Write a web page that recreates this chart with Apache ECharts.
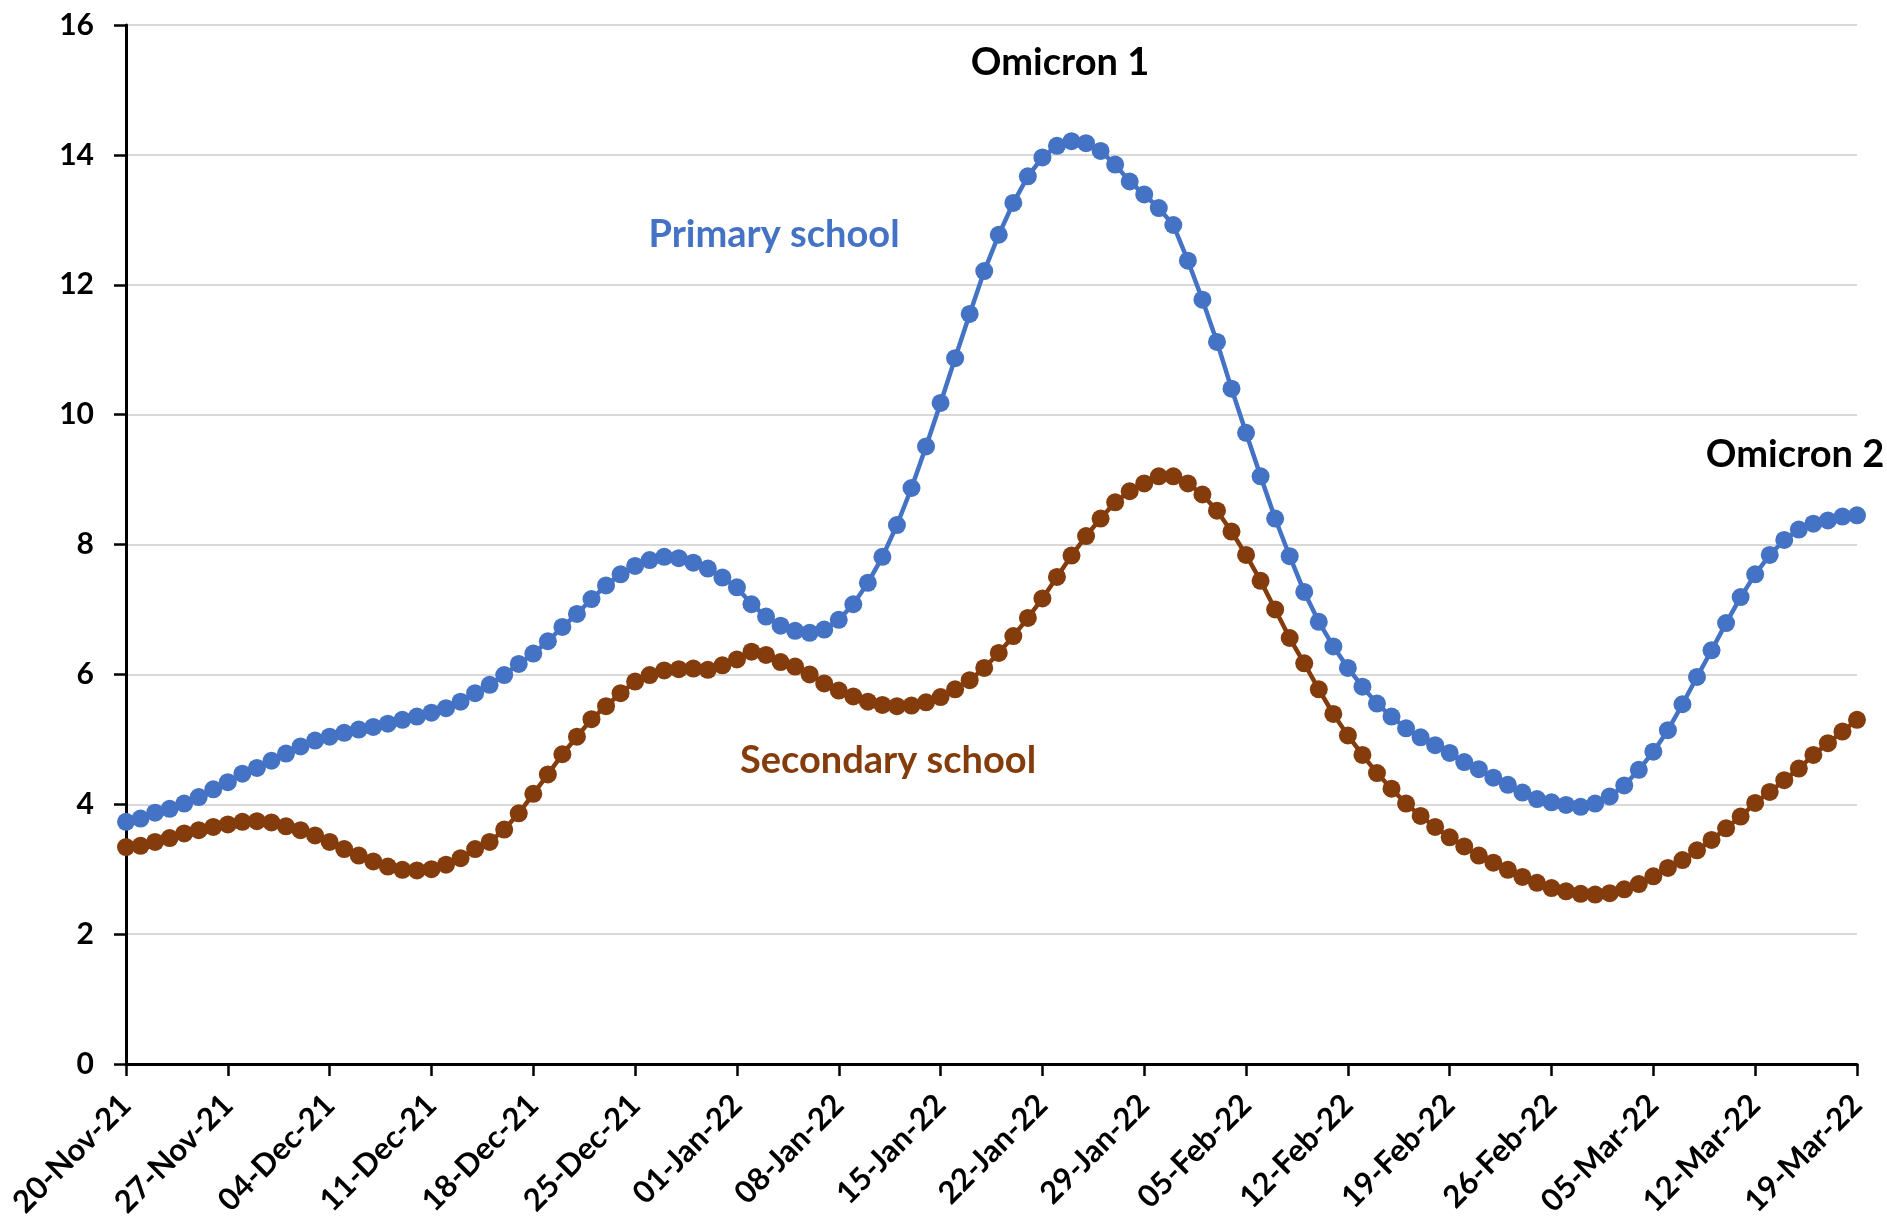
<!DOCTYPE html>
<html>
<head>
<meta charset="utf-8">
<title>Primary and secondary school</title>
<script src="https://cdn.jsdelivr.net/npm/echarts@6/dist/echarts.min.js"></script>
<style>
  html, body { margin: 0; padding: 0; background: #fff; }
  #chart { width: 1887px; height: 1227px; }
</style>
</head>
<body>
<div id="chart"></div>
<script>
// daily categories, 20-Nov-21 .. 19-Mar-22
const startDay = Date.UTC(2021, 10, 20);
const dayCount = 120;
const monthNames = ['Jan', 'Feb', 'Mar', 'Apr', 'May', 'Jun', 'Jul', 'Aug', 'Sep', 'Oct', 'Nov', 'Dec'];
const categories = [];
for (let i = 0; i < dayCount; i++) {
  const d = new Date(startDay + i * 86400000);
  const dd = String(d.getUTCDate()).padStart(2, '0');
  const yy = String(d.getUTCFullYear()).slice(2);
  categories.push(dd + '-' + monthNames[d.getUTCMonth()] + '-' + yy);
}

const primarySchool = [
  3.73, 3.78, 3.87, 3.93, 4.01, 4.11, 4.23, 4.34, 4.47, 4.56,
  4.67, 4.78, 4.89, 4.98, 5.04, 5.10, 5.15, 5.19, 5.24, 5.30,
  5.35, 5.41, 5.48, 5.58, 5.71, 5.84, 5.99, 6.16, 6.32, 6.51,
  6.73, 6.93, 7.16, 7.37, 7.54, 7.67, 7.76, 7.81, 7.79, 7.72,
  7.63, 7.49, 7.34, 7.08, 6.89, 6.75, 6.67, 6.64, 6.69, 6.84,
  7.08, 7.41, 7.81, 8.30, 8.87, 9.51, 10.18, 10.87, 11.55, 12.21,
  12.77, 13.26, 13.67, 13.96, 14.14, 14.21, 14.18, 14.06, 13.85, 13.59,
  13.39, 13.18, 12.92, 12.37, 11.77, 11.12, 10.40, 9.72, 9.05, 8.40,
  7.82, 7.27, 6.81, 6.43, 6.10, 5.81, 5.55, 5.35, 5.17, 5.03,
  4.91, 4.79, 4.65, 4.54, 4.41, 4.30, 4.18, 4.08, 4.03, 3.99,
  3.96, 4.01, 4.12, 4.29, 4.53, 4.81, 5.14, 5.54, 5.96, 6.37,
  6.79, 7.19, 7.54, 7.84, 8.07, 8.23, 8.32, 8.37, 8.43, 8.45
];

const secondarySchool = [
  3.34, 3.36, 3.42, 3.48, 3.55, 3.60, 3.65, 3.69, 3.73, 3.74,
  3.72, 3.66, 3.60, 3.52, 3.42, 3.31, 3.21, 3.12, 3.04, 2.99,
  2.98, 3.00, 3.07, 3.17, 3.31, 3.42, 3.61, 3.86, 4.16, 4.46,
  4.77, 5.04, 5.31, 5.51, 5.71, 5.89, 5.99, 6.06, 6.08, 6.09,
  6.07, 6.14, 6.23, 6.35, 6.30, 6.19, 6.12, 6.00, 5.86, 5.75,
  5.66, 5.58, 5.53, 5.51, 5.52, 5.57, 5.65, 5.77, 5.91, 6.10,
  6.33, 6.59, 6.87, 7.17, 7.50, 7.83, 8.13, 8.40, 8.65, 8.82,
  8.94, 9.05, 9.05, 8.94, 8.77, 8.52, 8.20, 7.84, 7.44, 7.00,
  6.56, 6.17, 5.77, 5.39, 5.06, 4.76, 4.48, 4.24, 4.01, 3.82,
  3.65, 3.49, 3.35, 3.21, 3.10, 2.99, 2.88, 2.79, 2.71, 2.66,
  2.62, 2.61, 2.63, 2.69, 2.77, 2.89, 3.02, 3.14, 3.29, 3.45,
  3.63, 3.81, 4.02, 4.19, 4.37, 4.55, 4.76, 4.94, 5.12, 5.30
];

const blue = '#4472C4';
const brown = '#843C0C';
const font = 'Lato, "Open Sans", sans-serif';

const chart = echarts.init(document.getElementById('chart'));

const option = {
  animation: false,
  backgroundColor: '#fff',
  grid: { left: 126, right: 30, top: 25, bottom: 163 },
  xAxis: {
    type: 'category',
    data: categories,
    boundaryGap: false,
    axisLine: { lineStyle: { color: '#000', width: 3 } },
    axisTick: { show: true, interval: 6, length: 12, lineStyle: { color: '#000', width: 2.5 } },
    axisLabel: {
      interval: 6, rotate: 45, margin: 36,
      color: '#000', fontFamily: font, fontWeight: 'bold', fontSize: 31
    },
    splitLine: { show: false }
  },
  yAxis: {
    type: 'value',
    min: 0, max: 16, interval: 2,
    axisLine: { show: true, lineStyle: { color: '#000', width: 3 } },
    axisTick: { show: true, length: 12, lineStyle: { color: '#000', width: 2.5 } },
    axisLabel: { margin: 32, color: '#000', fontFamily: font, fontWeight: 'bold', fontSize: 30 },
    splitLine: { lineStyle: { color: '#d9d9d9', width: 2 } }
  },
  series: [
    {
      name: 'Primary school',
      type: 'line',
      data: primarySchool,
      showAllSymbol: true,
      symbol: 'circle', symbolSize: 18,
      itemStyle: { color: blue },
      lineStyle: { color: blue, width: 4.5 }
    },
    {
      name: 'Secondary school',
      type: 'line',
      data: secondarySchool,
      showAllSymbol: true,
      symbol: 'circle', symbolSize: 18,
      itemStyle: { color: brown },
      lineStyle: { color: brown, width: 4.5 }
    }
  ],
  graphic: [
    { type: 'text', x: 1060, y: 63, style: { text: 'Omicron 1', fill: '#000', font: 'bold 38px ' + font, textAlign: 'center', textVerticalAlign: 'middle' } },
    { type: 'text', x: 1795, y: 455, style: { text: 'Omicron 2', fill: '#000', font: 'bold 38px ' + font, textAlign: 'center', textVerticalAlign: 'middle' } },
    { type: 'text', x: 774, y: 235, style: { text: 'Primary school', fill: blue, font: 'bold 38px ' + font, textAlign: 'center', textVerticalAlign: 'middle' } },
    { type: 'text', x: 888, y: 761, style: { text: 'Secondary school', fill: brown, font: 'bold 38px ' + font, textAlign: 'center', textVerticalAlign: 'middle' } }
  ]
};

chart.setOption(option);
</script>
</body>
</html>
